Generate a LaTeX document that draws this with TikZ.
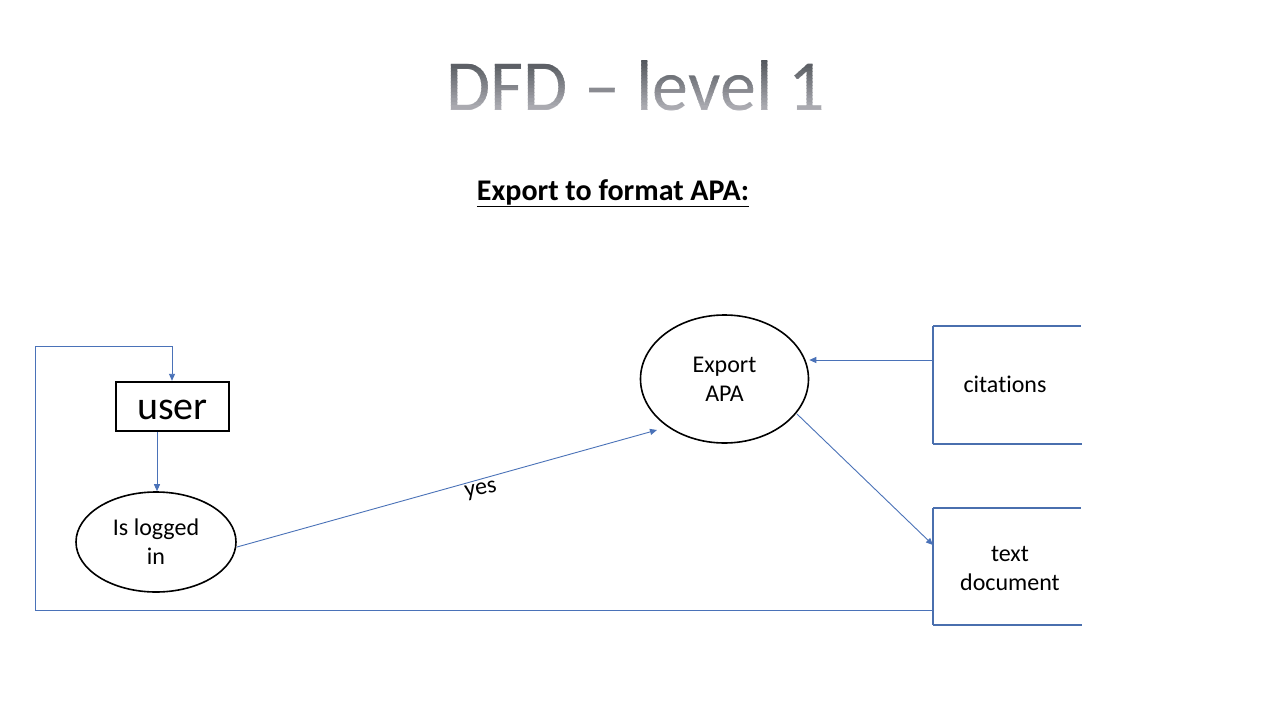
\documentclass[tikz,border=0pt]{standalone}
\usepackage{fontspec}
\setmainfont{Carlito}[Ligatures=NoCommon]
\usetikzlibrary{arrows.meta,shapes.geometric}
\definecolor{flow}{HTML}{4A72B8}
\definecolor{store}{HTML}{4A6FAE}
\definecolor{titletop}{HTML}{50545A}
\definecolor{titlebot}{HTML}{B0B0B6}
\begin{document}
\begin{tikzpicture}[x=1pt,y=-1pt,
  flowline/.style={draw=flow,line width=0.9pt,-{Triangle[length=7pt,width=6pt]}},
  proc/.style={ellipse,draw=black,line width=1.6pt,align=center,font=\fontsize{24}{29}\selectfont},
  storeline/.style={draw=store,line width=2.6pt},
  storeleft/.style={draw=store,line width=1.1pt},
  lbl/.style={font=\fontsize{24}{29}\selectfont,align=center,inner sep=0pt},
  titletext/.style={inner sep=0pt,font=\fontsize{72}{80}\selectfont}]
\useasboundingbox[fill=white] (0,0) rectangle (1280,720);
% title with stepped gradient
\foreach \i in {0,...,15}{
  \pgfmathsetmacro{\pc}{100-\i*100/15}
  \begin{scope}
    \clip (400,{58+\i*3.4}) rectangle (880,{58+(\i+1)*3.4+0.3});
    \node[titletext,text=titletop!\pc!titlebot] (title\i) at (636,86) {DFD – level 1};
  \end{scope}
}
\node[inner sep=0pt,font=\fontsize{30}{34}\selectfont\bfseries] (sub) at (613,193) {\underline{Export to format APA:}};
% nodes
\node[draw=black,line width=2.4pt,minimum width=113pt,minimum height=49pt,inner sep=0pt,text height=26pt,text depth=0pt,font=\fontsize{40}{44}\selectfont] (user) at (172.5,406.5) {user};
\node[proc,minimum width=160pt,minimum height=100pt,inner sep=0pt] (login) at (156,542) {Is logged\\in};
\node[proc,minimum width=168pt,minimum height=128pt,inner sep=0pt] (export) at (724.5,379) {Export\\APA};
% data stores
\coordinate (c1) at (933,326); \coordinate (c2) at (1081,326);
\coordinate (c3) at (933,444); \coordinate (c4) at (1082,444);
\draw[storeline] (c1) -- (c2); \draw[storeline] (c3) -- (c4);
\draw[storeleft] (c1) -- (c3);
\node[lbl] (cit) at (1005,384) {citations};
\coordinate (t1) at (933,508); \coordinate (t2) at (1081,508);
\coordinate (t3) at (933,625); \coordinate (t4) at (1082,625);
\draw[storeline] (t1) -- (t2); \draw[storeline] (t3) -- (t4);
\draw[storeleft] (t1) -- (t3);
\node[lbl] (txt) at (1010,568) {text\\document};
% connectors
\coordinate (loopA) at (933,610);
\coordinate (loopB) at (35,610);
\coordinate (loopC) at (35,346);
\coordinate (loopD) at (172,346);
\draw[flowline] (loopA) -- (loopB) -- (loopC) -- (loopD) -- (user.north -| loopD);
\draw[flowline] (user.south -| 157,0) -- (login.north -| 157,0);
\coordinate (yesA) at (237,547);
\coordinate (yesB) at (657,430);
\draw[flowline] (yesA) -- (yesB);
\node[lbl,rotate=10] (yes) at (481,491) {yes};
\coordinate (citA) at (933,360);
\draw[flowline] (citA) -- (export.east |- citA);
\coordinate (expA) at (797,414);
\coordinate (txtA) at (933,545);
\draw[flowline] (expA) -- (txtA);
\end{tikzpicture}
\end{document}
